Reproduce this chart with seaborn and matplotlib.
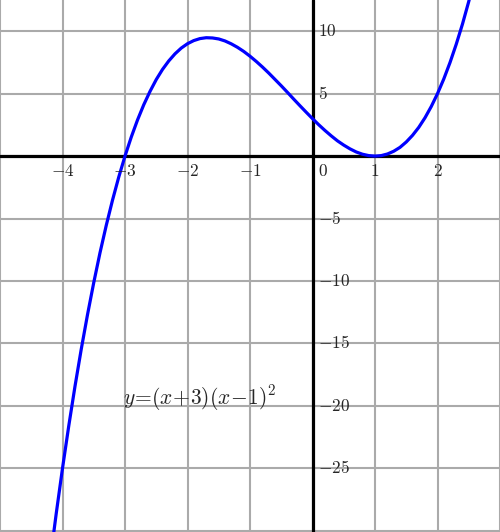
import matplotlib
matplotlib.use("Agg")
import matplotlib.pyplot as plt
import seaborn as sns
import pandas as pd

# curve samples
x_vals = [-4.2, -4.1, -4.0, -3.9, -3.8, -3.7, -3.6, -3.5, -3.4, -3.3, -3.2, -3.1,
          -3.0, -2.9, -2.8, -2.7, -2.6, -2.5, -2.4, -2.3, -2.2, -2.1, -2.0, -1.9,
          -1.8, -1.7, -1.6, -1.5, -1.4, -1.3, -1.2, -1.1, -1.0, -0.9, -0.8, -0.7,
          -0.6, -0.5, -0.4, -0.3, -0.2, -0.1, 0.0, 0.1, 0.2, 0.3, 0.4, 0.5,
          0.6, 0.7, 0.8, 0.9, 1.0, 1.1, 1.2, 1.3, 1.4, 1.5, 1.6, 1.7,
          1.8, 1.9, 2.0, 2.1, 2.2, 2.3, 2.4, 2.5, 2.6]
y_vals = [-32.45, -28.61, -25.0, -21.61, -18.43, -15.46, -12.70, -10.13, -7.74, -5.55, -3.53, -1.68,
          0.0, 1.52, 2.89, 4.11, 5.18, 6.13, 6.94, 7.62, 8.19, 8.65, 9.0, 9.25,
          9.41, 9.48, 9.46, 9.38, 9.22, 8.99, 8.71, 8.38, 8.0, 7.58, 7.13, 6.65,
          6.14, 5.63, 5.10, 4.56, 4.03, 3.51, 3.0, 2.51, 2.05, 1.62, 1.22, 0.88,
          0.58, 0.33, 0.15, 0.04, 0.0, 0.04, 0.17, 0.39, 0.70, 1.13, 1.66, 2.30,
          3.07, 3.97, 5.0, 6.17, 7.49, 8.96, 10.58, 12.38, 14.34]

x_ticks = [-4, -3, -2, -1, 0, 1, 2]
y_ticks = [-25, -20, -15, -10, -5, 5, 10]
x_grid = [-5, -4, -3, -2, -1, 0, 1, 2, 3]
y_grid = [-30, -25, -20, -15, -10, -5, 0, 5, 10]

df = pd.DataFrame({"x": x_vals, "y": y_vals})

sns.set_style("white")
plt.rcParams["mathtext.fontset"] = "cm"

fig = plt.figure(figsize=(5, 5.32), dpi=100)
ax = fig.add_axes([0, 0, 1, 1])

for gx in x_grid:
    ax.axvline(gx, color="#aaaaaa", lw=1.5, zorder=1)
for gy in y_grid:
    ax.axhline(gy, color="#aaaaaa", lw=1.5, zorder=1)
ax.axhline(0, color="black", lw=2.3, zorder=2)
ax.axvline(0, color="black", lw=2.3, zorder=2)

sns.lineplot(data=df, x="x", y="y", sort=False, estimator=None,
             color="blue", lw=2.3, ax=ax, zorder=3)

for t in x_ticks:
    if t == 0:
        ax.text(0.09, -0.45, "$0$", ha="left", va="top", fontsize=12.5, zorder=4)
    else:
        ax.text(t, -0.45, "$%d$" % t, ha="center", va="top", fontsize=12.5, zorder=4)
for t in y_ticks:
    ax.text(0.09, t, "$%d$" % t, ha="left", va="center", fontsize=12.5, zorder=4)

ax.text(-3.03, -19.4, r"$y\!=\!(x\!+\!3)(x\!-\!1)^2$", ha="left", va="center",
        fontsize=15.5, zorder=4)

ax.set_xlim(-5, 3)
ax.set_ylim(-30.1, 12.5)
ax.set_xticks([])
ax.set_yticks([])
ax.set_xlabel("")
ax.set_ylabel("")
for s in ax.spines.values():
    s.set_visible(False)

fig.savefig("out.png", dpi=100)
